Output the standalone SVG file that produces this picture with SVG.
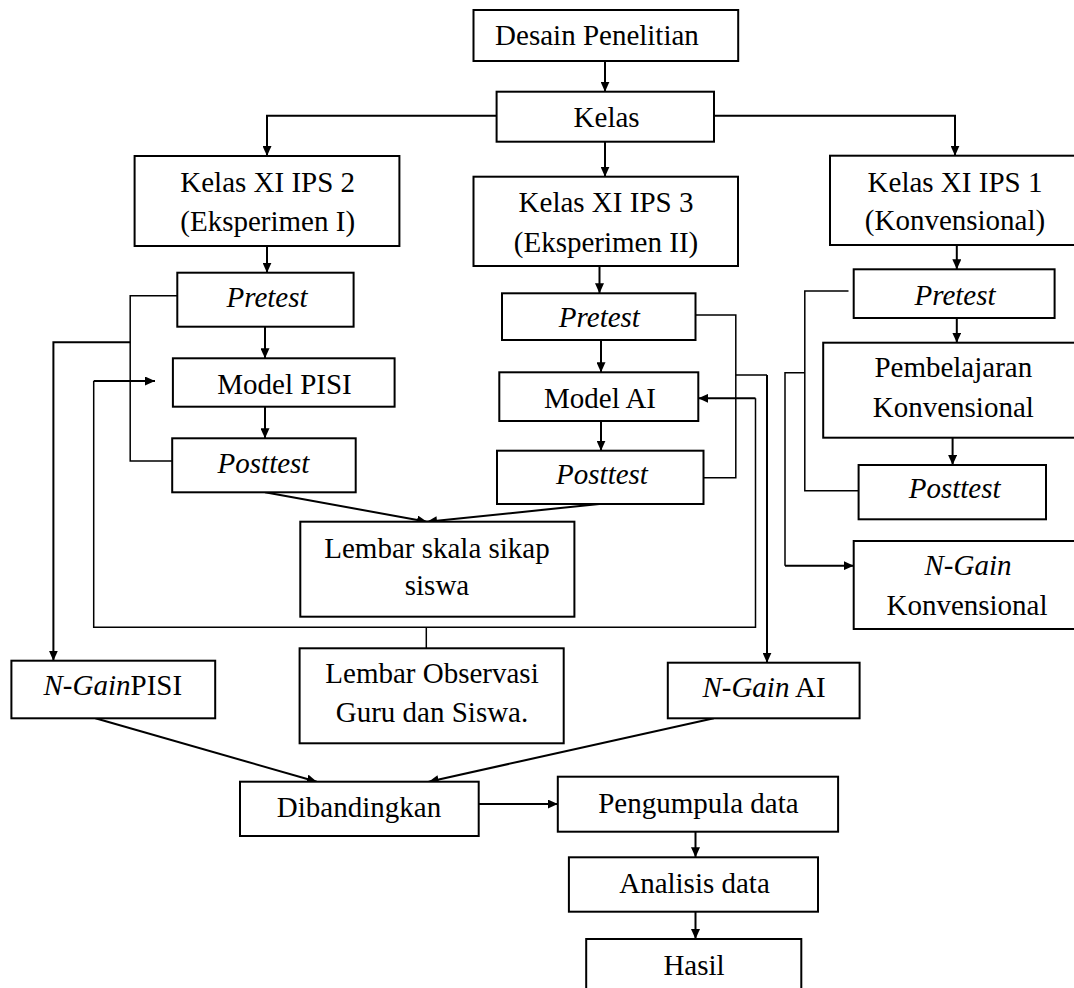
<svg xmlns="http://www.w3.org/2000/svg" width="1074" height="988" viewBox="0 0 1074 988">
<style>
.box{fill:#fff;stroke:#000;stroke-width:2}
.t{font-family:"Liberation Serif","Times New Roman",serif;font-size:29px;fill:#000;text-anchor:middle}
.i{font-style:italic}
.c{fill:none;stroke:#000;stroke-width:2}
.b{fill:none;stroke:#000;stroke-width:1.5}
</style>
<defs>
<marker id="ah" markerUnits="userSpaceOnUse" markerWidth="10" markerHeight="9" refX="10" refY="4.5" orient="auto">
<path d="M0,0 L10,4.5 L0,9 z" fill="#000"/>
</marker>
</defs>
<rect width="1074" height="988" fill="#fff"/>
<g id="connectors">
<path class="c" d="M605,61 V91.7" marker-end="url(#ah)"/>
<path class="c" d="M496.6,115.7 H267 V156" marker-end="url(#ah)"/>
<path class="c" d="M605,141.7 V176.7" marker-end="url(#ah)"/>
<path class="c" d="M714,115.7 H955 V155.7" marker-end="url(#ah)"/>
<path class="c" d="M267,246 V272.7" marker-end="url(#ah)"/>
<path class="c" d="M599.5,266 V293.3" marker-end="url(#ah)"/>
<path class="c" d="M956.8,245 V269.3" marker-end="url(#ah)"/>
<path class="c" d="M265,326.7 V358.3" marker-end="url(#ah)"/>
<path class="c" d="M265,406.7 V438.3" marker-end="url(#ah)"/>
<path class="b" d="M177.3,295.7 H130.2 V461 H172.2"/>
<path class="c" d="M130.2,342.3 H53.4 V660.7" marker-end="url(#ah)"/>
<path class="c" d="M93.7,381 H155" marker-end="url(#ah)"/>
<path class="b" d="M93.7,381 V627.3 H755.5 V398.3"/>
<path class="c" d="M755.5,398.3 H698.3" marker-end="url(#ah)"/>
<path class="b" d="M426.3,627.3 V648.3"/>
<path class="c" d="M601,340 V372.3" marker-end="url(#ah)"/>
<path class="c" d="M601,421 V450.7" marker-end="url(#ah)"/>
<path class="b" d="M695.5,315 H735.8 V477.7 H703.5"/>
<path class="b" d="M735.8,375 H767"/>
<path class="c" d="M767,375 V662.7" marker-end="url(#ah)"/>
<path class="c" d="M265,492.3 L427,521.7" marker-end="url(#ah)"/>
<path class="c" d="M599.4,504 L427,521.7" marker-end="url(#ah)"/>
<path class="c" d="M956.8,318 V342.7" marker-end="url(#ah)"/>
<path class="c" d="M952.6,433 V465" marker-end="url(#ah)"/>
<path class="b" d="M848.5,291 H804.8 V490.7 H858.6"/>
<path class="b" d="M804.8,372.7 H785 V565.7"/>
<path class="c" d="M785,565.7 H853.7" marker-end="url(#ah)"/>
<path class="c" d="M95.4,718.3 L316.8,781.7" marker-end="url(#ah)"/>
<path class="c" d="M713.9,718.3 L428.7,781.7" marker-end="url(#ah)"/>
<path class="c" d="M478.7,804 H557.8" marker-end="url(#ah)"/>
<path class="c" d="M695.5,831.7 V857.3" marker-end="url(#ah)"/>
<path class="c" d="M695.5,911.7 V939" marker-end="url(#ah)"/>
</g>
<g id="desain"><rect class="box" x="473.5" y="10" width="264.7" height="51"/><text class="t" x="597" y="45">Desain Penelitian</text></g>
<g id="kelas"><rect class="box" x="496.6" y="91.7" width="217.4" height="50"/><text class="t" x="606.6" y="126.7">Kelas</text></g>
<g id="ips2"><rect class="box" x="134.6" y="156" width="264.8" height="90"/><text class="t" x="267.7" y="191.7">Kelas XI IPS 2</text><text class="t" x="267.7" y="231">(Eksperimen I)</text></g>
<g id="ips3"><rect class="box" x="473.5" y="176.7" width="264.5" height="89.3"/><text class="t" x="606" y="211.7">Kelas XI IPS 3</text><text class="t" x="606" y="251.7">(Eksperimen II)</text></g>
<g id="ips1"><rect class="box" x="830" y="155.7" width="260" height="89.3"/><text class="t" x="955" y="191.7">Kelas XI IPS 1</text><text class="t" x="955" y="230">(Konvensional)</text></g>
<g id="pretest1"><rect class="box" x="177.3" y="272.7" width="176.3" height="54"/><text class="t i" x="267" y="306.7">Pretest</text></g>
<g id="pretest2"><rect class="box" x="502" y="293.3" width="193.5" height="46.7"/><text class="t i" x="599.4" y="326.7">Pretest</text></g>
<g id="pretest3"><rect class="box" x="853.7" y="269.3" width="200.9" height="48.7"/><text class="t i" x="955" y="305">Pretest</text></g>
<g id="modelpisi"><rect class="box" x="172.9" y="358.3" width="221.7" height="48.4"/><text class="t" x="284.5" y="394">Model PISI</text></g>
<g id="modelai"><rect class="box" x="499.3" y="372.3" width="199" height="48.7"/><text class="t" x="600" y="407.7">Model AI</text></g>
<g id="pembelajaran"><rect class="box" x="823.2" y="342.7" width="270" height="95"/><text class="t" x="953.3" y="377.3">Pembelajaran</text><text class="t" x="953.3" y="417.3">Konvensional</text></g>
<g id="posttest1"><rect class="box" x="172.2" y="438.3" width="183.5" height="54"/><text class="t i" x="263.5" y="473.3">Posttest</text></g>
<g id="posttest2"><rect class="box" x="497" y="450.7" width="206.5" height="53.3"/><text class="t i" x="602" y="484">Posttest</text></g>
<g id="posttest3"><rect class="box" x="858.6" y="465" width="187.4" height="54.3"/><text class="t i" x="954.6" y="498.3">Posttest</text></g>
<g id="skala"><rect class="box" x="300.3" y="521.7" width="274.1" height="95"/><text class="t" x="437" y="557.7">Lembar skala sikap</text><text class="t" x="437" y="595">siswa</text></g>
<g id="ngainkonv"><rect class="box" x="853.7" y="541" width="240" height="88"/><text class="t i" x="968" y="575">N-Gain</text><text class="t" x="967" y="615">Konvensional</text></g>
<g id="observasi"><rect class="box" x="299.6" y="648.3" width="264.1" height="95"/><text class="t" x="432" y="683.3">Lembar Observasi</text><text class="t" x="432" y="721.7">Guru dan Siswa.</text></g>
<g id="ngainpisi"><rect class="box" x="11.4" y="660.7" width="203.8" height="57.6"/><text class="t" x="112.8" y="695"><tspan class="i">N-Gain</tspan>PISI</text></g>
<g id="ngainai"><rect class="box" x="667.8" y="662.7" width="191.8" height="55.6"/><text class="t" x="764" y="697.3"><tspan class="i">N-Gain</tspan> AI</text></g>
<g id="dibandingkan"><rect class="box" x="240" y="781.7" width="238.7" height="54.3"/><text class="t" x="359" y="816.7">Dibandingkan</text></g>
<g id="pengumpula"><rect class="box" x="557.8" y="776.7" width="280.3" height="55"/><text class="t" x="698.4" y="813.3">Pengumpula data</text></g>
<g id="analisis"><rect class="box" x="568.9" y="857.3" width="249.1" height="54.4"/><text class="t" x="694.5" y="893.3">Analisis data</text></g>
<g id="hasil"><rect class="box" x="586.2" y="939" width="215.1" height="70"/><text class="t" x="694" y="975">Hasil</text></g>
</svg>
